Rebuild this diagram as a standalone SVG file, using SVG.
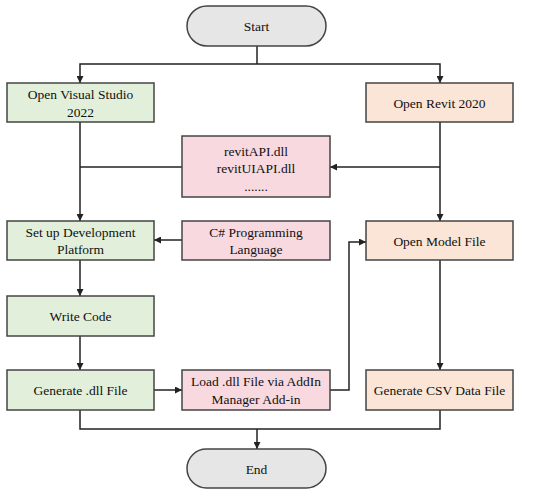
<svg xmlns="http://www.w3.org/2000/svg" width="550" height="494" viewBox="0 0 550 494">
<defs>
<marker id="ah" viewBox="0 0 10 10" refX="10" refY="5" markerWidth="7" markerHeight="7" markerUnits="userSpaceOnUse" orient="auto">
<path d="M0,0 L10,5 L0,10 z" fill="#222"/>
</marker>
<style>
.t{font-family:"Liberation Serif","Times New Roman",serif;font-size:13.5px;fill:#111;text-anchor:middle;dominant-baseline:central}
.g rect{fill:#e2efda;stroke:#444;stroke-width:1.5}
.o rect{fill:#fbe5d6;stroke:#444;stroke-width:1.5}
.p rect{fill:#f8d9e0;stroke:#444;stroke-width:1.5}
.e rect{fill:#e6e6e6;stroke:#444;stroke-width:1.5}
.c path{fill:none;stroke:#222;stroke-width:1.5}
.c .a{marker-end:url(#ah)}
</style>
</defs>
<rect width="550" height="494" fill="#fff"/>
<g class="c" id="connectors">
<path d="M257,46 V64"/>
<path class="a" d="M257,64 H80 V83"/>
<path class="a" d="M257,64 H440 V83"/>
<path class="a" d="M80,122 V221"/>
<path d="M182,167 H80"/>
<path class="a" d="M440,122 V221"/>
<path class="a" d="M440,167 H330"/>
<path class="a" d="M182,240 H154"/>
<path class="a" d="M80,260 V296"/>
<path class="a" d="M80,336 V370"/>
<path class="a" d="M154,390 H182"/>
<path class="a" d="M330,390 H349 V242 H366"/>
<path class="a" d="M440,260 V370"/>
<path d="M80,410 V429 H440 V410"/>
<path class="a" d="M257,429 V449"/>
</g>
<g id="start" class="e"><rect x="187" y="6" width="139" height="40" rx="20"/><text class="t" x="256.5" y="26">Start</text></g>
<g id="open-vs" class="g"><rect x="7" y="83" width="147" height="39"/><text class="t" x="80.5" y="94">Open Visual Studio</text><text class="t" x="80.5" y="112">2022</text></g>
<g id="open-revit" class="o"><rect x="366" y="83" width="147" height="39"/><text class="t" x="439.5" y="103">Open Revit 2020</text></g>
<g id="dlls" class="p"><rect x="182" y="136" width="148" height="61"/><text class="t" x="256" y="151">revitAPI.dll</text><text class="t" x="256" y="168">revitUIAPI.dll</text><text class="t" x="256" y="186">.......</text></g>
<g id="setup" class="g"><rect x="7" y="221" width="147" height="39"/><text class="t" x="80.5" y="232">Set up Development</text><text class="t" x="80.5" y="249">Platform</text></g>
<g id="csharp" class="p"><rect x="182" y="221" width="148" height="39"/><text class="t" x="256" y="232">C# Programming</text><text class="t" x="256" y="249">Language</text></g>
<g id="open-model" class="o"><rect x="366" y="221" width="147" height="39"/><text class="t" x="439.5" y="241">Open Model File</text></g>
<g id="write-code" class="g"><rect x="7" y="296" width="147" height="40"/><text class="t" x="80.5" y="316">Write Code</text></g>
<g id="gen-dll" class="g"><rect x="7" y="370" width="147" height="40"/><text class="t" x="80.5" y="390">Generate .dll File</text></g>
<g id="load-dll" class="p"><rect x="182" y="370" width="148" height="40"/><text class="t" x="256" y="381">Load .dll File via AddIn</text><text class="t" x="256" y="399">Manager Add-in</text></g>
<g id="gen-csv" class="o"><rect x="366" y="370" width="147" height="40"/><text class="t" x="439.5" y="390">Generate CSV Data File</text></g>
<g id="end" class="e"><rect x="187" y="449" width="139" height="39" rx="19.5"/><text class="t" x="256.5" y="469">End</text></g>
</svg>
